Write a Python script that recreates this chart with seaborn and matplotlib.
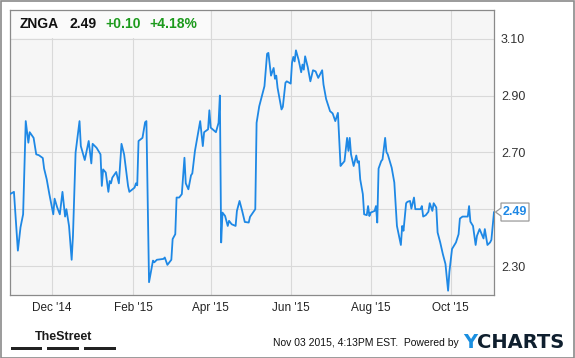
import numpy as np
import pandas as pd
import matplotlib
matplotlib.use("Agg")
import matplotlib.pyplot as plt
import seaborn as sns
from matplotlib.patches import Polygon, Rectangle
from matplotlib.transforms import IdentityTransform

# ---------------- data ----------------
ticker = "ZNGA"
last_price = 2.49
change_abs = "+0.10"
change_pct = "+4.18%"
start_date = "2014-10-30"

day_offsets = [0, 3, 6, 8, 10, 12, 14, 15, 18, 20, 22, 25, 26, 28, 30, 33, 34, 36, 38, 40,
               42, 43, 45, 47, 48, 50, 53, 54, 57, 60, 62, 63, 66, 69, 70, 71, 73, 75, 76, 77,
               78, 81, 83, 85, 87,
               90, 91, 95, 96, 97, 98, 101, 103, 104, 106, 109, 110, 112, 117, 118, 120, 123, 124, 126, 127,
               129, 131, 133, 134, 136, 138, 139, 141, 143, 145, 147, 148, 151, 152, 153, 157, 159, 160, 161, 162,
               164, 166, 167, 169, 172, 173, 175, 177,
               179, 182, 183, 187, 188, 190, 192, 194, 196, 197, 199, 201, 202, 203, 204, 207, 208, 210, 211, 214,
               215, 216, 217, 218, 220, 222, 223, 224, 225, 227, 229, 231, 233, 235, 238, 239, 241, 244, 246, 248,
               250, 252, 253, 255, 257, 258, 259, 260, 262, 264, 265, 266, 267, 269, 270,
               272, 273, 274, 275, 278, 279, 280, 281, 283, 284, 286, 287, 288, 291, 293, 295, 298, 299, 300, 302,
               303, 305, 306, 308, 309, 313, 314, 315, 317, 319, 320, 322, 323, 325, 326, 328, 330, 332, 334, 335,
               337, 340, 342, 343, 345, 349, 350, 351, 353, 355, 356, 358, 361, 362, 364, 366, 367, 369]

close_prices = [2.553, 2.561, 2.354, 2.436, 2.482, 2.81, 2.734, 2.771, 2.751, 2.693,
                2.69, 2.68, 2.643, 2.605, 2.553, 2.482, 2.537, 2.506, 2.482, 2.561,
                2.474, 2.50, 2.441, 2.322, 2.406, 2.699, 2.81, 2.722, 2.673, 2.74,
                2.661, 2.73, 2.716, 2.693, 2.582, 2.64, 2.629, 2.561, 2.599, 2.591,
                2.611, 2.631, 2.591, 2.73, 2.693,
                2.582, 2.561, 2.576, 2.591, 2.584, 2.74, 2.751, 2.806, 2.81, 2.243,
                2.319, 2.313, 2.322, 2.325, 2.33, 2.304, 2.322, 2.395, 2.412, 2.541,
                2.541, 2.553, 2.681, 2.591, 2.570, 2.619, 2.626, 2.705, 2.757, 2.81,
                2.722, 2.771, 2.781, 2.848, 2.787, 2.771, 2.804, 2.90, 2.383, 2.488,
                2.476, 2.441, 2.459, 2.447, 2.441, 2.494, 2.529, 2.494,
                2.455, 2.453, 2.473, 2.50, 2.804, 2.862, 2.898, 2.933, 3.047, 3.05,
                2.970, 2.997, 2.959, 2.970, 2.927, 2.851, 2.86, 2.945, 2.95, 2.942,
                3.015, 3.036, 3.02, 3.059, 3.026, 2.982, 3.009, 2.991, 3.038, 3.0,
                2.95, 2.989, 2.985, 2.962, 2.989, 2.939, 2.888, 2.845, 2.837, 2.81,
                2.839, 2.652, 2.658, 2.669, 2.751, 2.705, 2.751, 2.693, 2.652, 2.689,
                2.664, 2.669, 2.605, 2.553, 2.482,
                2.479, 2.511, 2.476, 2.488, 2.494, 2.511, 2.453, 2.643, 2.669, 2.675,
                2.751, 2.701, 2.693, 2.646, 2.594, 2.441, 2.374, 2.441, 2.424, 2.521,
                2.526, 2.529, 2.502, 2.541, 2.50, 2.50, 2.511, 2.474, 2.479, 2.491,
                2.521, 2.494, 2.521, 2.506, 2.418, 2.383, 2.342, 2.307, 2.213, 2.280,
                2.360, 2.383, 2.412, 2.467, 2.474, 2.474, 2.511, 2.456, 2.441, 2.374,
                2.406, 2.430, 2.397, 2.430, 2.374, 2.383, 2.392, 2.49]

x_tick_dates = ["2014-12-01", "2015-02-01", "2015-04-01", "2015-06-01", "2015-08-01", "2015-10-01"]
x_tick_labels = ["Dec '14", "Feb '15", "Apr '15", "Jun '15", "Aug '15", "Oct '15"]
y_grid_values = [2.30, 2.50, 2.70, 2.90, 3.10]
y_tick_labels = ["2.30", "", "2.70", "2.90", "3.10"]
footer_text = "Nov 03 2015, 4:13PM EST.  Powered by"

# ---------------- styling ----------------
sns.set_theme(style="white")
plt.rcParams["font.family"] = ["Liberation Sans", "DejaVu Sans"]

W, H = 575, 358
fig = plt.figure(figsize=(W / 100, H / 100), dpi=100)
fig.patch.set_facecolor("white")

def fx(px):
    return px / W

def fy(py):
    return 1 - py / H

ax = fig.add_axes([fx(10), fy(295), fx(494) - fx(10), fy(10) - fy(295)])
ax.set_facecolor("#f6f6f6")

df = pd.DataFrame({
    "date": pd.Timestamp(start_date) + pd.to_timedelta(day_offsets, unit="D"),
    "price": close_prices,
})

sns.lineplot(data=df, x="date", y="price", ax=ax, color="#1e88e5", linewidth=1.3, zorder=3)

ax.set_xlim(df["date"].iloc[0], df["date"].iloc[-1])
ax.set_ylim(2.198, 3.201)

ax.set_xticks(pd.to_datetime(x_tick_dates))
ax.set_xticklabels(x_tick_labels, fontsize=8.5, color="#222222")
ax.set_yticks(y_grid_values)
ax.set_yticklabels(y_tick_labels, fontsize=9, color="#333333")
ax.yaxis.tick_right()
ax.tick_params(axis="both", length=0)
ax.tick_params(axis="x", pad=5)
ax.tick_params(axis="y", pad=5)
ax.set_xlabel("")
ax.set_ylabel("")
ax.grid(True, color="#d9d9d9", linewidth=0.8, zorder=0)
ax.set_axisbelow(True)
for s in ax.spines.values():
    s.set_color("#8a8a8a")
    s.set_linewidth(0.9)

# title box (covers gridlines in the header)
ax.add_patch(Rectangle((0, 1), (210 - 10) / (494 - 10), -(39 - 10.5) / (295 - 10),
                       transform=ax.transAxes, facecolor="#fafafa", edgecolor="none", zorder=1))

# header text
fig.text(fx(20), fy(24.5), ticker, fontsize=10, fontweight="bold", color="#111111", va="center")
fig.text(fx(69), fy(24.5), f"{last_price:.2f}", fontsize=10, fontweight="bold", color="#111111", va="center")
fig.text(fx(105), fy(24.5), change_abs, fontsize=10, fontweight="bold", color="#1c9a1c", va="center")
fig.text(fx(149), fy(24.5), change_pct, fontsize=10, fontweight="bold", color="#1c9a1c", va="center")

# last value callout
fig.canvas.draw()
x0 = ax.transAxes.transform((1, 0))[0]
y0 = ax.transData.transform((0, close_prices[-1]))[1]
verts = [(x0 + 1.5, y0), (x0 + 7, y0 + 4), (x0 + 7, y0 + 9), (x0 + 35, y0 + 9),
         (x0 + 35, y0 - 9), (x0 + 7, y0 - 9), (x0 + 7, y0 - 4)]
fig.patches.append(Polygon(verts, closed=True, transform=IdentityTransform(),
                           facecolor="white", edgecolor="#9a9a9a", linewidth=0.9, figure=fig))
fig.text((x0 + 21) / W, y0 / H, f"{close_prices[-1]:.2f}", fontsize=9, fontweight="bold",
         color="#1e88e5", ha="center", va="center")

# footer: TheStreet logo
fig.text(fx(64), fy(337), "TheStreet", fontsize=9, fontweight="bold", color="#1a1a1a",
         ha="center", va="center")
for bx0, bx1 in [(11, 42), (47, 79), (84, 116)]:
    fig.patches.append(Rectangle((fx(bx0), fy(350)), fx(bx1) - fx(bx0), 3 / H,
                                 transform=fig.transFigure, facecolor="#222222",
                                 edgecolor="none", figure=fig))

# footer: timestamp and YCHARTS
fig.text(fx(459), fy(343), footer_text, fontsize=7.5, color="#111111", ha="right", va="center")
fig.text(fx(463), fy(342), "Y", fontsize=14, fontweight="bold", color="#1a8fe0", va="center",
         family=["DejaVu Sans"])
fig.text(fx(477), fy(342), "CHARTS", fontsize=14, fontweight="bold", color="#0f1f2e", va="center",
         family=["DejaVu Sans"])

# outer border
fig.patches.append(Rectangle((0.5 / W, 0.5 / H), 1 - 1.5 / W, 1 - 1.5 / H, transform=fig.transFigure,
                             facecolor="none", edgecolor="#8a8a8a", linewidth=1.2, figure=fig))

fig.savefig("out.png", dpi=100)
